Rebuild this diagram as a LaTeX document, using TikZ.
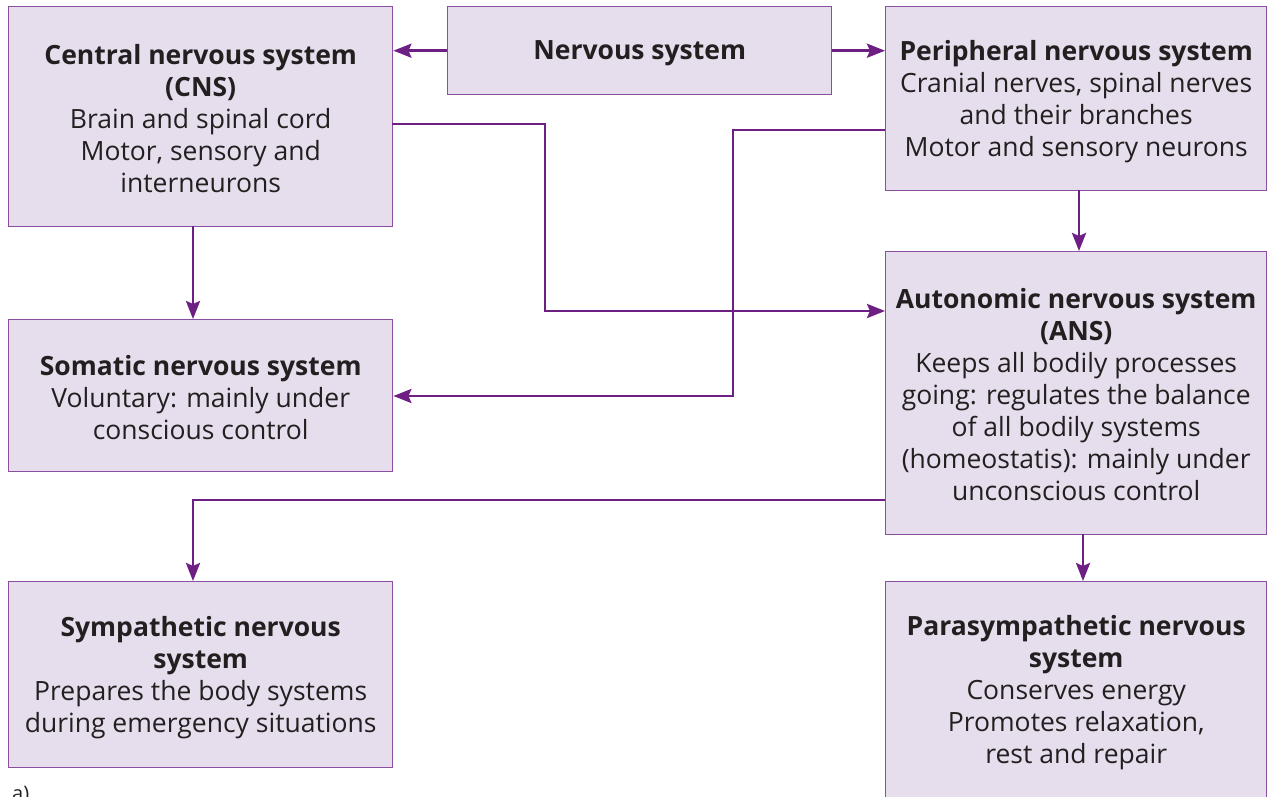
\documentclass[tikz,border=0pt]{standalone}
\usepackage{fontspec}
\setmainfont{Open Sans}
\usetikzlibrary{arrows.meta,calc}
\definecolor{boxfill}{HTML}{E6DEEC}
\definecolor{boxline}{HTML}{8A4FA0}
\definecolor{arrcol}{HTML}{6E1F84}
\definecolor{txt}{HTML}{231F20}
\tikzset{
  box/.style={draw=boxline, line width=1.4pt, fill=boxfill, anchor=north west, inner sep=0pt},
  boxtext/.style={inner sep=0pt, align=center, text=txt, font=\fontsize{26.5}{32}\selectfont},
  arr/.style={draw=arrcol, line width=2.8pt, -{Stealth[length=18pt,width=14pt,inset=3pt]}},
}
\begin{document}
\begin{tikzpicture}[x=1pt,y=-1pt]
\useasboundingbox (0,0) rectangle (1267,797);
\fill[white] (0,0) rectangle (1267,797);
\node[box, minimum width=384pt, minimum height=220pt] (cns) at (8,6) {};
\node[box, minimum width=384pt, minimum height=88pt] (ns) at (447,6) {};
\node[box, minimum width=381pt, minimum height=184pt] (pns) at (885,6) {};
\node[box, minimum width=384pt, minimum height=152pt] (som) at (8,319) {};
\node[box, minimum width=381pt, minimum height=283pt] (ans) at (885,251) {};
\node[box, minimum width=384pt, minimum height=186pt] (sym) at (8,581) {};
\node[box, minimum width=381pt, minimum height=216pt] (para) at (885,581) {};
\node[boxtext] (cnst) at ([yshift=-2pt]cns.center)
  {\textbf{Central nervous system}\\ \textbf{(CNS)}\\ Brain and spinal cord\\ Motor, sensory and\\ interneurons};
\node[boxtext] (nst) at ([yshift=-3pt]ns.center) {\textbf{Nervous system}};
\node[boxtext] (pnst) at ([yshift=-3pt]pns.center)
  {\textbf{Peripheral nervous system}\\ Cranial nerves, spinal nerves\\ and their branches\\ Motor and sensory neurons};
\node[boxtext] (somt) at ([yshift=-2pt]som.center)
  {\textbf{Somatic nervous system}\\ Voluntary: mainly under\\ conscious control};
\node[boxtext] (anst) at ([yshift=-1pt]ans.center)
  {\textbf{Autonomic nervous system}\\ \textbf{(ANS)}\\ Keeps all bodily processes\\ going: regulates the balance\\ of all bodily systems\\ (homeostatis): mainly under\\ unconscious control};
\node[boxtext] (symt) at ([yshift=-3pt]sym.center)
  {\textbf{Sympathetic nervous}\\ \textbf{system}\\ Prepares the body systems\\ during emergency situations};
\node[boxtext] (parat) at ([yshift=-3pt]para.center)
  {\textbf{Parasympathetic nervous}\\ \textbf{system}\\ Conserves energy\\ Promotes relaxation,\\ rest and repair};
% connectors
\draw[arr] (ns.west) -- (cns.east |- ns.west);
\draw[arr] (ns.east) -- (pns.west |- ns.east);
\coordinate (c1) at (392,124);
\coordinate (c2) at (545,311);
\draw[arr] (c1) -| (c2) -- (ans.west |- c2);
\coordinate (p1) at (885,130);
\coordinate (p2) at (733,396);
\draw[arr] (p1) -| (p2) -- (som.east |- p2);
\coordinate (k1) at (193,226);
\draw[arr] (k1) -- (som.north -| k1);
\coordinate (k2) at (1079,190);
\draw[arr] (k2) -- (ans.north -| k2);
\coordinate (a1) at (885,500);
\coordinate (a2) at (193,581);
\draw[arr] (a1) -| (sym.north -| a2);
\coordinate (k3) at (1083,534);
\draw[arr] (k3) -- (para.north -| k3);
\begin{scope}
\clip (0,0) rectangle (1267,797);
\node[text=txt, font=\fontsize{20}{24}\selectfont, anchor=north west, inner sep=0pt] (lab) at (12,786) {a)};
\end{scope}
\end{tikzpicture}
\end{document}
